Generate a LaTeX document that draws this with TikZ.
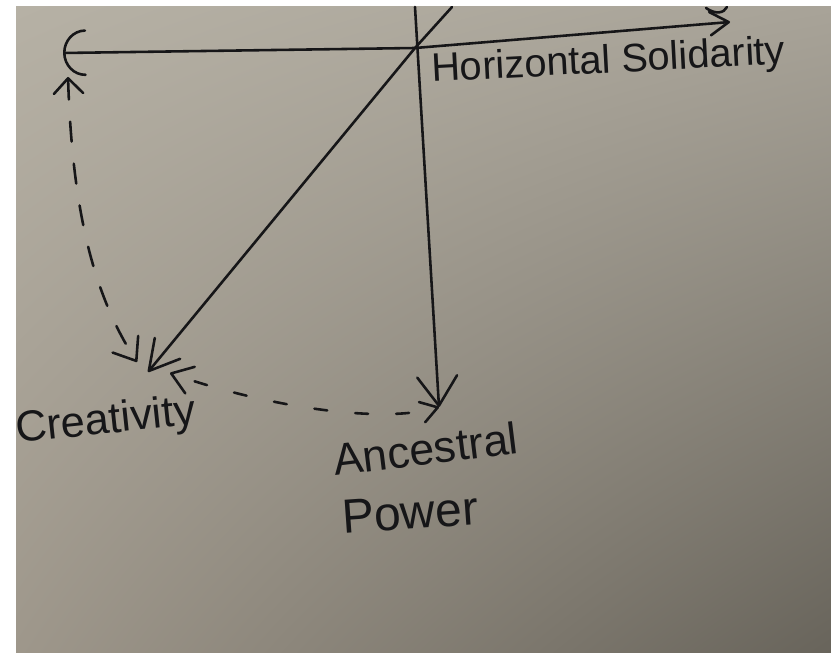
\documentclass[tikz,border=0pt]{standalone}
\usepackage{fontspec}
\setmainfont{Liberation Sans}
\usetikzlibrary{arrows.meta,shadings}
\definecolor{ink}{RGB}{22,22,24}
\definecolor{paperUL}{RGB}{182,177,165}
\definecolor{paperUR}{RGB}{168,163,152}
\definecolor{paperLL}{RGB}{158,151,139}
\definecolor{paperLR}{RGB}{104,100,91}
\tikzset{
  stroke/.style={draw=ink, line width=2.2pt, line cap=round, line join=round},
  dashA/.style={stroke, dash pattern=on 17pt off 19pt},
  dashB/.style={stroke, dash pattern=on 11pt off 24pt, dash phase=-20pt},
  lab/.style={inner sep=0pt, text=ink, anchor=base west}
}
\begin{document}
\begin{tikzpicture}[x=0.03cm,y=-0.03cm]
\fill[white] (0,0) rectangle (831,653);
\useasboundingbox (0,0) rectangle (831,653);
\shade[upper left=paperUL, upper right=paperUR, lower left=paperLL, lower right=paperLR] (16,7) rectangle (831,653);

% coordinates
\coordinate (O) at (415,48);
\coordinate (L) at (63,53);
\coordinate (R) at (730,22);
\coordinate (Dtop) at (452,7);
\coordinate (Vtop) at (415,7);
\coordinate (crTip) at (148,372);
\coordinate (apTip) at (439,407);
\coordinate (dT) at (68,77);
\coordinate (dB) at (137,362);
\coordinate (cD) at (170,373);
\coordinate (sq1) at (706,8);
\coordinate (sq2) at (727,7);

% labels
\node[lab, font=\fontsize{34}{40}\selectfont, rotate=3] (hs) at (432,82) {Horizontal Solidarity};
\node[lab, font=\fontsize{37}{44}\selectfont, rotate=6] (cr) at (17,443) {Creativity};
\node[lab, font=\fontsize{38}{44}\selectfont, rotate=7] (apA) at (335,476) {Ancestral};
\node[lab, font=\fontsize{41}{48}\selectfont, rotate=4] (apP) at (343,534) {Power};

% axes
\draw[stroke, {Arc Barb[length=19pt,width=40pt,round]}-{Straight Barb[length=16pt,width=20pt,round]}] (L) -- (O) -- (R);
\draw[stroke, -{Straight Barb[length=25pt,width=28pt,round]}] (Dtop) -- (O) -- (crTip);
\draw[stroke, -{Straight Barb[length=25pt,width=34pt,round]}] (Vtop) -- (apTip);

% dashed links
\draw[dashA, {Straight Barb[length=13pt,width=25pt,round]}-{Straight Barb[length=17pt,width=26pt,round]}]
  (dT) .. controls (72,200) and (90,290) .. (dB);
\draw[dashB, {Straight Barb[length=17pt,width=24pt,round]}-{Straight Barb[length=14pt,width=18pt,round]}]
  (cD) .. controls (260,405) and (380,425) .. (apTip);

% squiggle at top edge
\draw[stroke] (sq1) .. controls (716,15) and (724,13) .. (sq2);
\end{tikzpicture}
\end{document}
